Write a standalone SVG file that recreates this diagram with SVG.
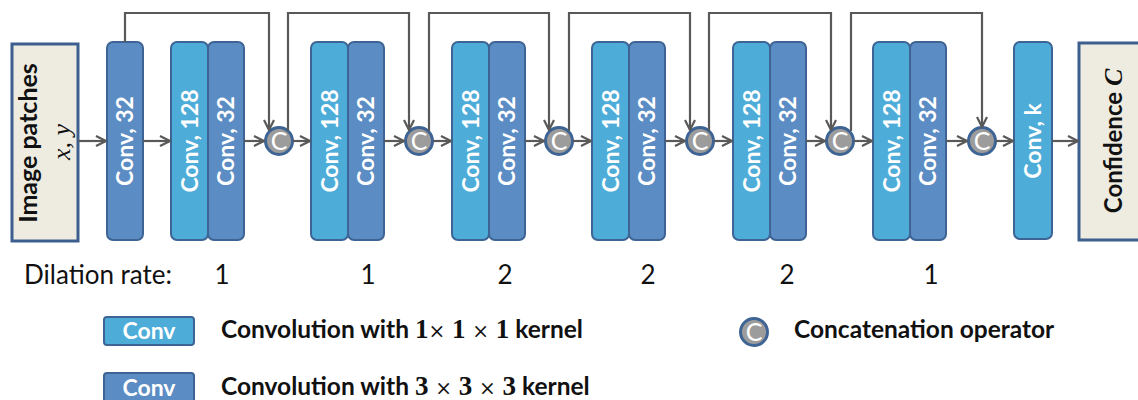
<svg xmlns="http://www.w3.org/2000/svg" width="1138" height="400" viewBox="0 0 1138 400">
<defs>
<marker id="arr" viewBox="0 0 12 12" refX="11" refY="6" markerWidth="12" markerHeight="12" markerUnits="userSpaceOnUse" orient="auto">
<path d="M1,1 L11,6 L1,11" fill="none" stroke="#595959" stroke-width="2.2"/>
</marker>
<style>
.lb{fill:#4eacd8;stroke:#3d6494;stroke-width:2}
.db{fill:#5b8cc3;stroke:#3d6494;stroke-width:2}
.io{fill:#eeece1;stroke:#3d5f8f;stroke-width:3}
.cc{fill:#9c9c9c;stroke:#3d6494;stroke-width:3}
.ct{font-family:Lato,"Liberation Sans",sans-serif;font-size:25px;fill:#fff;text-anchor:middle}
.bt{font-family:Lato,"Liberation Sans",sans-serif;font-size:23px;font-weight:bold;fill:#fff;text-anchor:middle}
.con{fill:none;stroke:#595959;stroke-width:2.2}
.lab{font-family:Lato,"Liberation Sans",sans-serif;font-size:26px;fill:#111}
.leg{font-family:Lato,"Liberation Sans",sans-serif;font-size:24.5px;font-weight:bold;fill:#111}
.m{font-family:"Liberation Serif",serif;font-weight:bold;font-size:27px}
.mx{font-family:"DejaVu Serif",serif;font-weight:normal;font-size:20px}
</style>
</defs>

<g id="input">
<rect class="io" x="12" y="44" width="66" height="197"/>
<text transform="translate(37,143) rotate(-90)" text-anchor="middle" font-family="Lato,'Liberation Sans',sans-serif" font-size="25" font-weight="bold" fill="#111">Image patches</text>
<text transform="translate(70,142) rotate(-90)" text-anchor="middle" font-family="'Liberation Serif',serif" font-style="italic" font-size="26" fill="#111">x, y</text>
</g>

<g id="conv0">
<rect class="db" x="107" y="42" width="36" height="198" rx="6"/>
<text class="bt" transform="translate(133,141) rotate(-90)">Conv, 32</text>
</g>

<g id="block1">
<rect class="lb" x="171" y="42" width="37" height="198" rx="6"/>
<rect class="db" x="208" y="42" width="36" height="198" rx="6"/>
<text class="bt" transform="translate(198,141) rotate(-90)">Conv, 128</text>
<text class="bt" transform="translate(234,141) rotate(-90)">Conv, 32</text>
</g>
<g id="block2">
<rect class="lb" x="311" y="42" width="37" height="198" rx="6"/>
<rect class="db" x="348" y="42" width="36" height="198" rx="6"/>
<text class="bt" transform="translate(338,141) rotate(-90)">Conv, 128</text>
<text class="bt" transform="translate(374,141) rotate(-90)">Conv, 32</text>
</g>
<g id="block3">
<rect class="lb" x="452" y="42" width="37" height="198" rx="6"/>
<rect class="db" x="489" y="42" width="36" height="198" rx="6"/>
<text class="bt" transform="translate(479,141) rotate(-90)">Conv, 128</text>
<text class="bt" transform="translate(515,141) rotate(-90)">Conv, 32</text>
</g>
<g id="block4">
<rect class="lb" x="592" y="42" width="37" height="198" rx="6"/>
<rect class="db" x="629" y="42" width="36" height="198" rx="6"/>
<text class="bt" transform="translate(619,141) rotate(-90)">Conv, 128</text>
<text class="bt" transform="translate(655,141) rotate(-90)">Conv, 32</text>
</g>
<g id="block5">
<rect class="lb" x="733" y="42" width="37" height="198" rx="6"/>
<rect class="db" x="770" y="42" width="36" height="198" rx="6"/>
<text class="bt" transform="translate(760,141) rotate(-90)">Conv, 128</text>
<text class="bt" transform="translate(796,141) rotate(-90)">Conv, 32</text>
</g>
<g id="block6">
<rect class="lb" x="873" y="42" width="37" height="198" rx="6"/>
<rect class="db" x="910" y="42" width="36" height="198" rx="6"/>
<text class="bt" transform="translate(900,141) rotate(-90)">Conv, 128</text>
<text class="bt" transform="translate(936,141) rotate(-90)">Conv, 32</text>
</g>
<g id="convk">
<rect class="lb" x="1014" y="42" width="38" height="197" rx="6"/>
<text class="bt" transform="translate(1041,141) rotate(-90)">Conv, k</text>
</g>
<g id="output">
<rect class="io" x="1079" y="43" width="70" height="197"/>
<text transform="translate(1122,141) rotate(-90)" text-anchor="middle" font-family="Lato,'Liberation Sans',sans-serif" font-size="24" font-weight="bold" fill="#111">Confidence <tspan font-family="'Liberation Serif',serif" font-style="italic" font-size="26">C</tspan></text>
</g>

<g id="concat1"><circle class="cc" cx="279" cy="141" r="13.5"/><text class="ct" x="279" y="150">C</text></g>
<g id="concat2"><circle class="cc" cx="419" cy="141" r="13.5"/><text class="ct" x="419" y="150">C</text></g>
<g id="concat3"><circle class="cc" cx="559" cy="141" r="13.5"/><text class="ct" x="559" y="150">C</text></g>
<g id="concat4"><circle class="cc" cx="700" cy="141" r="13.5"/><text class="ct" x="700" y="150">C</text></g>
<g id="concat5"><circle class="cc" cx="840" cy="141" r="13.5"/><text class="ct" x="840" y="150">C</text></g>
<g id="concat6"><circle class="cc" cx="982" cy="141" r="13.5"/><text class="ct" x="982" y="150">C</text></g>

<g id="connectors">
<path class="con" marker-end="url(#arr)" d="M78,141 H106"/>
<path class="con" marker-end="url(#arr)" d="M143,141 H170"/>
<path class="con" marker-end="url(#arr)" d="M244,141 H264"/>
<path class="con" marker-end="url(#arr)" d="M293,141 H310"/>
<path class="con" marker-end="url(#arr)" d="M384,141 H404"/>
<path class="con" marker-end="url(#arr)" d="M433,141 H451"/>
<path class="con" marker-end="url(#arr)" d="M525,141 H544"/>
<path class="con" marker-end="url(#arr)" d="M573,141 H591"/>
<path class="con" marker-end="url(#arr)" d="M665,141 H685"/>
<path class="con" marker-end="url(#arr)" d="M714,141 H732"/>
<path class="con" marker-end="url(#arr)" d="M806,141 H825"/>
<path class="con" marker-end="url(#arr)" d="M854,141 H872"/>
<path class="con" marker-end="url(#arr)" d="M946,141 H967"/>
<path class="con" marker-end="url(#arr)" d="M996,141 H1013"/>
<path class="con" marker-end="url(#arr)" d="M1052,141 H1078"/>
<path class="con" marker-end="url(#arr)" d="M125,42 V13 H269 V130"/>
<path class="con" marker-end="url(#arr)" d="M288,131 V13 H409 V130"/>
<path class="con" marker-end="url(#arr)" d="M429,131 V13 H549 V130"/>
<path class="con" marker-end="url(#arr)" d="M569,131 V13 H690 V130"/>
<path class="con" marker-end="url(#arr)" d="M709,131 V13 H831 V130"/>
<path class="con" marker-end="url(#arr)" d="M851,131 V13 H982 V127"/>
</g>

<g id="dilation">
<text class="lab" x="24" y="284">Dilation rate:</text>
<text class="lab" x="222" y="284" text-anchor="middle">1</text>
<text class="lab" x="368" y="284" text-anchor="middle">1</text>
<text class="lab" x="505" y="284" text-anchor="middle">2</text>
<text class="lab" x="648" y="284" text-anchor="middle">2</text>
<text class="lab" x="787" y="284" text-anchor="middle">2</text>
<text class="lab" x="931" y="284" text-anchor="middle">1</text>
</g>

<g id="legend">
<rect class="lb" x="104" y="317" width="90" height="28" rx="3"/>
<text class="bt" x="149" y="339" font-size="24">Conv</text>
<text class="leg" x="221" y="338">Convolution with <tspan class="m">1</tspan><tspan class="mx">×</tspan><tspan class="m"> 1 </tspan><tspan class="mx">×</tspan><tspan class="m"> 1</tspan> kernel</text>
<rect class="db" x="104" y="373" width="90" height="30" rx="3"/>
<text class="bt" x="149" y="396" font-size="24">Conv</text>
<text class="leg" x="221" y="395">Convolution with <tspan class="m">3 </tspan><tspan class="mx">×</tspan><tspan class="m"> 3 </tspan><tspan class="mx">×</tspan><tspan class="m"> 3</tspan> kernel</text>
<circle class="cc" cx="754" cy="332" r="13.5"/>
<text class="ct" x="754" y="341">C</text>
<text class="leg" x="794" y="338">Concatenation operator</text>
</g>
</svg>
